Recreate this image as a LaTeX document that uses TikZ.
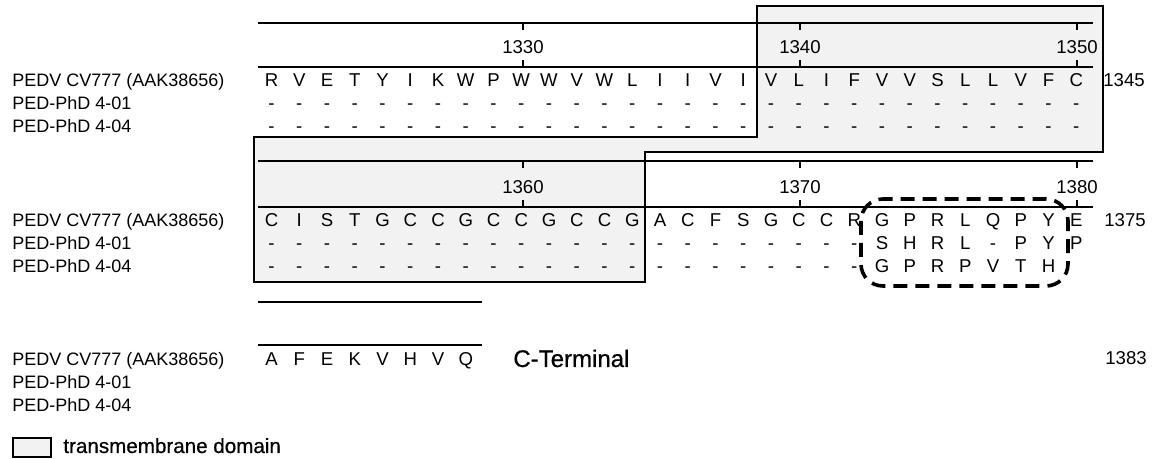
\documentclass[tikz,border=0pt]{standalone}
\usepackage{fontspec}
\setmainfont{Liberation Sans}[FakeBold=0.6,AutoFakeBold=0]
\definecolor{tmgray}{RGB}{242,242,242}
\begin{document}
\begin{tikzpicture}[x=0.5pt,y=-0.5pt,
  lab/.style={anchor=base west,inner sep=0pt,font=\fontsize{9}{10}\selectfont\bfseries},
  res/.style={anchor=base,inner sep=0pt,font=\fontsize{9.3}{10}\selectfont\bfseries},
  num/.style={anchor=base,inner sep=0pt,font=\fontsize{9.3}{10}\selectfont\bfseries},
  ruler/.style={line width=1pt},
  tick/.style={line width=1pt},
  tmbox/.style={draw,line width=1.2pt,fill=tmgray},
  oval/.style={draw,line width=1.8pt,dash pattern=on 7pt off 4pt,rounded corners=11pt}
]
\useasboundingbox (0,0) rectangle (1153,459);

% transmembrane domain outline
\path[tmbox] (757,6) -- (1103,6) -- (1103,152) -- (645,152) -- (645,282)
  -- (254,282) -- (254,137) -- (757,137) -- cycle;

% rulers
\foreach \y in {23,67,161,207} \draw[ruler] (258,\y) -- (1093,\y);
\foreach \x in {523,800,1077} {
  \draw[tick] (\x,23) -- (\x,30);
  \draw[tick] (\x,60) -- (\x,67);
  \draw[tick] (\x,161) -- (\x,168);
  \draw[tick] (\x,200) -- (\x,207);
}
\node[num] (n1330) at (523,53.5) {1330};
\node[num] (n1340) at (800,53.5) {1340};
\node[num] (n1350) at (1077,53.5) {1350};
\node[num] (n1360) at (523,193.5) {1360};
\node[num] (n1370) at (800,193.5) {1370};
\node[num] (n1380) at (1077,193.5) {1380};

% labels
\foreach \b/\ya/\yb/\yc in {1/87/110/133, 2/227/250/273, 3/366/389/412} {
  \node[lab] (la\b) at (12,\ya) {PEDV CV777 (AAK38656)};
  \node[lab] (lb\b) at (12,\yb) {PED-PhD 4-01};
  \node[lab] (lc\b) at (12,\yc) {PED-PhD 4-04};
}

% block 1
\foreach \a [count=\i from 0] in {R,V,E,T,Y,I,K,W,P,W,W,V,W,L,I,I,V,I,V,L,I,F,V,V,S,L,L,V,F,C} {
  \node[res] (ra\i) at ({271.5+27.75*\i},87) {\a};
  \node[res] (rb\i) at ({271.5+27.75*\i},110) {-};
  \node[res] (rc\i) at ({271.5+27.75*\i},133) {-};
}
\node[num] (e1345) at (1124,87) {1345};

% block 2
\foreach \a [count=\i from 0] in {C,I,S,T,G,C,C,G,C,C,G,C,C,G,A,C,F,S,G,C,C,R,G,P,R,L,Q,P,Y,E} {
  \node[res] (sa\i) at ({271.5+27.75*\i},227) {\a};
}
\foreach \a [count=\i from 0] in {-,-,-,-,-,-,-,-,-,-,-,-,-,-,-,-,-,-,-,-,-,-,S,H,R,L,-,P,Y,P} {
  \node[res] (sb\i) at ({271.5+27.75*\i},250) {\a};
}
\foreach \a [count=\i from 0] in {-,-,-,-,-,-,-,-,-,-,-,-,-,-,-,-,-,-,-,-,-,-,G,P,R,P,V,T,H} {
  \node[res] (sc\i) at ({271.5+27.75*\i},273) {\a};
}
\node[num] (e1375) at (1125,227) {1375};
\path[oval] (861,199) rectangle (1068,286);

% block 3
\draw[ruler] (258,302) -- (482,302);
\draw[ruler] (258,345) -- (482,345);
\foreach \a [count=\i from 0] in {A,F,E,K,V,H,V,Q} {
  \node[res] (ta\i) at ({271.5+27.75*\i},366) {\a};
}
\node[anchor=base west,inner sep=0pt,font=\fontsize{12}{14}\selectfont] (cterm) at (513,367) {C-Terminal};
\node[num] (e1383) at (1126,365) {1383};

% legend
\path[draw,line width=1.2pt,fill=tmgray] (13,438) rectangle (51,457);
\node[anchor=base west,inner sep=0pt,font=\fontsize{10.3}{12}\selectfont] (legend) at (63,453) {transmembrane domain};
\end{tikzpicture}
\end{document}
